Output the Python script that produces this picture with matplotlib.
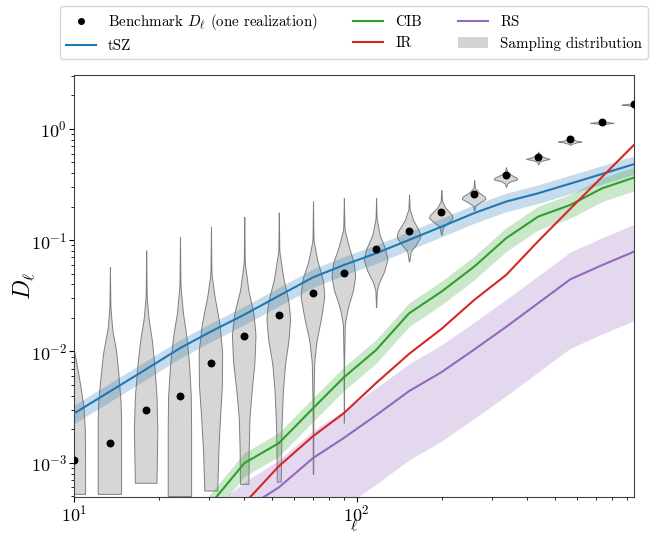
import numpy as np
import matplotlib
matplotlib.use("Agg")
from matplotlib import pyplot as plt
from matplotlib.lines import Line2D
from matplotlib.patches import Patch

plt.rcParams["font.family"] = "serif"
plt.rcParams["font.serif"] = ["cmr10"]
plt.rcParams["mathtext.fontset"] = "cm"
plt.rcParams["axes.formatter.use_mathtext"] = True

# multipole bin centres
ell = [10, 13.4, 18, 23.7, 30.5, 40, 53, 70, 90, 117, 153, 199, 260, 337, 438, 568, 738, 955]

# one realization of the benchmark spectrum
benchmark = [1.05e-3, 1.5e-3, 2.95e-3, 4.0e-3, 7.8e-3, 1.37e-2, 2.12e-2, 3.33e-2, 5.1e-2,
             8.3e-2, 0.122, 0.178, 0.262, 0.383, 0.564, 0.807, 1.15, 1.68]

# component spectra
tsz = [2.77e-3, 4.37e-3, 6.92e-3, 1.07e-2, 1.51e-2, 2.14e-2, 3.16e-2, 4.63e-2, 5.98e-2,
       7.62e-2, 0.1005, 0.132, 0.175, 0.222, 0.264, 0.322, 0.394, 0.482]
cib = [2.8e-5, 5.5e-5, 1.1e-4, 2.2e-4, 4.3e-4, 9.9e-4, 1.5e-3, 3.08e-3, 5.85e-3,
       1.03e-2, 2.2e-2, 3.44e-2, 5.78e-2, 0.104, 0.163, 0.207, 0.293, 0.365]
ir = [1.5e-5, 3e-5, 6e-5, 1.2e-4, 2e-4, 4.3e-4, 9.3e-4, 1.73e-3, 2.79e-3,
      5.2e-3, 9.5e-3, 1.59e-2, 2.9e-2, 4.86e-2, 0.098, 0.191, 0.372, 0.718]
rs = [2e-5, 4e-5, 8e-5, 1.3e-4, 2.2e-4, 3.8e-4, 6e-4, 1.1e-3, 1.67e-3,
      2.67e-3, 4.4e-3, 6.5e-3, 1.04e-2, 1.66e-2, 2.72e-2, 4.44e-2, 5.98e-2, 7.88e-2]

# relative scatter of each component (shaded bands)
tsz_err = 0.19
cib_err = 0.24
rs_err = 0.76

# sampling distribution per bin: (log10 D, relative density)
violin_shapes = [
    [(-3.28, 1.0), (-3.0, 1.0), (-2.7, 0.97), (-2.5, 0.85), (-2.3, 0.55), (-2.1, 0.2), (-1.99, 0.0)],
    [(-3.28, 1.0), (-2.6, 1.0), (-2.45, 0.95), (-2.2, 0.75), (-2.0, 0.55), (-1.8, 0.2), (-1.6, 0.04), (-1.24, 0.0)],
    [(-3.18, 0.92), (-3.0, 0.95), (-2.7, 1.0), (-2.4, 0.92), (-2.1, 0.7), (-1.9, 0.5), (-1.7, 0.2), (-1.5, 0.04), (-1.09, 0.0)],
    [(-3.3, 1.0), (-2.7, 1.0), (-2.4, 0.97), (-2.1, 0.8), (-1.85, 0.55), (-1.65, 0.25), (-1.4, 0.04), (-0.97, 0.0)],
    [(-3.25, 0.55), (-2.9, 0.65), (-2.6, 0.8), (-2.3, 0.98), (-2.0, 1.0), (-1.75, 0.75), (-1.5, 0.3), (-1.3, 0.04), (-0.88, 0.0)],
    [(-3.19, 0.36), (-2.9, 0.38), (-2.6, 0.45), (-2.35, 0.65), (-2.1, 0.9), (-1.85, 1.0), (-1.65, 0.8), (-1.45, 0.35), (-1.2, 0.04), (-0.79, 0.0)],
    [(-3.17, 0.17), (-2.7, 0.22), (-2.35, 0.35), (-2.1, 0.55), (-1.9, 0.85), (-1.7, 1.0), (-1.55, 0.85), (-1.35, 0.4), (-1.1, 0.04), (-0.75, 0.0)],
    [(-3.1, 0.02), (-2.5, 0.03), (-2.1, 0.1), (-1.9, 0.3), (-1.7, 0.7), (-1.5, 1.0), (-1.35, 0.85), (-1.2, 0.4), (-1.0, 0.04), (-0.65, 0.0)],
    [(-2.64, 0.01), (-2.1, 0.02), (-1.75, 0.08), (-1.6, 0.35), (-1.45, 0.8), (-1.32, 1.0), (-1.2, 0.85), (-1.05, 0.4), (-0.9, 0.05), (-0.62, 0.0)],
    [(-1.6, 0.01), (-1.45, 0.06), (-1.38, 0.25), (-1.28, 0.7), (-1.17, 1.0), (-1.08, 0.8), (-0.95, 0.3), (-0.8, 0.04), (-0.62, 0.0)],
    [(-1.19, 0.02), (-1.1, 0.15), (-1.04, 0.6), (-0.97, 1.0), (-0.92, 0.9), (-0.82, 0.35), (-0.72, 0.05), (-0.59, 0.0)],
    [(-0.95, 0.02), (-0.88, 0.15), (-0.84, 0.6), (-0.8, 1.0), (-0.77, 0.9), (-0.71, 0.35), (-0.65, 0.06), (-0.55, 0.0)],
    [(-0.73, 0.02), (-0.69, 0.1), (-0.66, 0.5), (-0.63, 1.0), (-0.61, 0.95), (-0.57, 0.4), (-0.53, 0.06), (-0.46, 0.0)],
    [(-0.52, 0.02), (-0.49, 0.1), (-0.47, 0.4), (-0.455, 1.0), (-0.44, 0.95), (-0.41, 0.4), (-0.38, 0.08), (-0.345, 0.0)],
    [(-0.318, 0.02), (-0.295, 0.1), (-0.28, 0.5), (-0.27, 1.0), (-0.255, 0.5), (-0.23, 0.08), (-0.204, 0.0)],
    [(-0.144, 0.02), (-0.135, 0.1), (-0.122, 0.5), (-0.114, 1.0), (-0.108, 0.6), (-0.09, 0.1), (-0.063, 0.0)],
    [(0.036, 0.02), (0.042, 0.1), (0.048, 0.5), (0.054, 1.0), (0.058, 0.7), (0.066, 0.15), (0.081, 0.0)],
    [(0.198, 0.02), (0.205, 0.1), (0.212, 0.5), (0.218, 1.0), (0.222, 0.7), (0.23, 0.15), (0.245, 0.0)],
]


def violin_stats(shape):
    logs = np.array([p[0] for p in shape])
    dens = np.array([p[1] for p in shape])
    grid = np.linspace(logs[0], logs[-1], 300)
    vals = np.interp(grid, logs, dens)
    # soften the corners a little
    k = np.ones(9) / 9
    padded = np.concatenate([np.full(4, vals[0]), vals, np.full(4, vals[-1])])
    vals = np.convolve(padded, k, mode="valid")
    coords = 10 ** grid
    return dict(coords=coords, vals=vals + 1e-3, mean=np.median(coords),
                median=np.median(coords), min=coords[0], max=coords[-1])


fig = plt.figure(figsize=(6.54, 5.33), dpi=100)
ax = fig.add_axes([0.1131, 0.0681, 0.8563, 0.7912])
ax.set_xscale("log")
ax.set_yscale("log")

ell_arr = np.array(ell)
stats = [violin_stats(s) for s in violin_shapes]
parts = ax.violin(stats, positions=ell, widths=list(0.19 * ell_arr),
                  showmeans=False, showextrema=False, showmedians=False)
for b in parts["bodies"]:
    b.set_alpha(None)
    b.set_facecolor((0.83, 0.83, 0.83, 0.95))
    b.set_edgecolor((0.45, 0.45, 0.45, 0.9))
    b.set_linewidth(0.7)
    b.set_zorder(1)

colors = {"tsz": "tab:blue", "cib": "tab:green", "ir": "tab:red", "rs": "tab:purple"}
for vals, err, c in [(tsz, tsz_err, colors["tsz"]), (cib, cib_err, colors["cib"]),
                     (rs, rs_err, colors["rs"])]:
    v = np.array(vals)
    ax.fill_between(ell, v * (1 - err), v * (1 + err), color=c, alpha=0.25, lw=0, zorder=2)

ax.plot(ell, tsz, color=colors["tsz"], lw=1.5, zorder=3)
ax.plot(ell, cib, color=colors["cib"], lw=1.5, zorder=3)
ax.plot(ell, ir, color=colors["ir"], lw=1.5, zorder=3)
ax.plot(ell, rs, color=colors["rs"], lw=1.5, zorder=3)
ax.scatter(ell, benchmark, s=22, color="k", zorder=5)

ax.set_xlim(10, 955)
ax.set_ylim(4.95e-4, 3.05)
for sp in ax.spines.values():
    sp.set_color("0.25")
ax.tick_params(labelsize=13, pad=1.5)
ax.set_xlabel(r"$\ell$", fontsize=11.5, va="center")
ax.xaxis.set_label_coords(0.5, -0.068)
ax.set_ylabel(r"$D_\ell$", fontsize=17)
ax.yaxis.set_label_coords(-0.066, 0.5)

handles = [
    Line2D([], [], ls="none", marker="o", color="k", markersize=4),
    Line2D([], [], color=colors["tsz"], lw=1.5),
    Line2D([], [], color=colors["cib"], lw=1.5),
    Line2D([], [], color=colors["ir"], lw=1.5),
    Line2D([], [], color=colors["rs"], lw=1.5),
    Patch(facecolor=(0.83, 0.83, 0.83)),
]
labels = [r"Benchmark $D_\ell$ (one realization)", "tSZ", "CIB", "IR", "RS",
          "Sampling distribution"]
fig.legend(handles, labels, loc="upper center", bbox_to_anchor=(0.541, 1.0), ncol=3,
           fontsize=10.8, columnspacing=2.4, handlelength=2.0, borderaxespad=0.4)

fig.savefig("out.png", dpi=100)
